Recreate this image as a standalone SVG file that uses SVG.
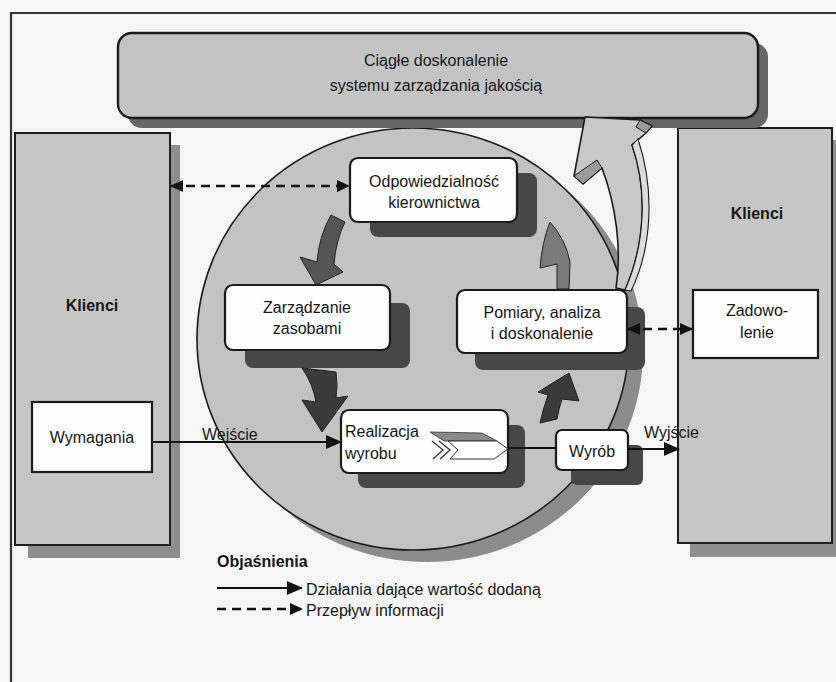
<svg xmlns="http://www.w3.org/2000/svg" width="836" height="682" viewBox="0 0 836 682">
  <defs>
    <style>
      .t { font-family: "Liberation Sans", Arial, sans-serif; font-size: 16px; fill: #161616; text-anchor: middle; }
      .tl { text-anchor: start; }
      .b { font-weight: bold; }
      .panel { fill: #c6c6c6; stroke: #1e1e1e; stroke-width: 2; }
      .pshadow { fill: #8e8e8e; }
      .box { fill: #fdfdfd; stroke: #1a1a1a; stroke-width: 2.2; }
      .bshadow { fill: #474747; }
      .flow { stroke: #111; stroke-width: 1.8; fill: none; }
      .info { stroke: #111; stroke-width: 2.6; fill: none; stroke-dasharray: 9 6; }
      .cyc { stroke: #222; stroke-width: 1; }
    </style>
    <marker id="head" markerWidth="16" markerHeight="16" refX="15" refY="8" orient="auto" markerUnits="userSpaceOnUse">
      <path d="M0,1 L16,8 L0,15 Z" fill="#111"/>
    </marker>
    <marker id="dhead" markerWidth="13" markerHeight="12" refX="12" refY="6" orient="auto-start-reverse" markerUnits="userSpaceOnUse">
      <path d="M0,0 L13,6 L0,12 Z" fill="#111"/>
    </marker>
  </defs>

  <!-- page -->
  <rect x="0" y="0" width="836" height="682" fill="#f6f6f6"/>
  <path d="M11,682 L11,13 L836,13" fill="none" stroke="#333" stroke-width="2.2"/>

  <!-- customers: requirements side -->
  <g id="klienci-wejscie">
    <rect class="pshadow" x="28" y="145" width="152" height="413"/>
    <rect class="panel" x="15" y="133" width="155" height="412"/>
    <text class="t b" x="92" y="311" font-size="18">Klienci</text>
    <rect class="box" x="32" y="402" width="120" height="70" stroke-width="2.4"/>
    <text class="t" x="92" y="443">Wymagania</text>
  </g>

  <!-- customers: satisfaction side -->
  <g id="klienci-wyjscie">
    <rect class="pshadow" x="690" y="140" width="160" height="417"/>
    <rect class="panel" x="678" y="128" width="154" height="415"/>
    <text class="t b" x="757" y="219" font-size="18">Klienci</text>
    <rect class="box" x="693" y="290" width="125" height="68" stroke-width="2.4"/>
    <text class="t" x="757" y="316">Zadowo-</text>
    <text class="t" x="757" y="338">lenie</text>
  </g>

  <!-- quality management process circle -->
  <g id="proces">
    <ellipse cx="427" cy="351" rx="216" ry="211" fill="#8c8c8c"/>
    <ellipse cx="413" cy="339" rx="216" ry="211" fill="#c3c3c3" stroke="#1a1a1a" stroke-width="1.6"/>
  </g>

  <!-- continual improvement banner -->
  <g id="doskonalenie">
    <rect x="128" y="43" width="640" height="85" rx="14" fill="#666"/>
    <rect x="118" y="33" width="640" height="85" rx="14" fill="#c4c4c4" stroke="#1a1a1a" stroke-width="2.4"/>
    <text class="t" x="436" y="66" font-size="19">Ciągłe doskonalenie</text>
    <text class="t" x="436" y="91" font-size="19">systemu zarządzania jakością</text>
  </g>

  <g id="odpowiedzialnosc">
    <rect class="bshadow" x="370" y="173" width="167" height="64" rx="8"/>
    <rect class="box" x="350" y="158" width="167" height="64" rx="8"/>
    <text class="t" x="434" y="187">Odpowiedzialność</text>
    <text class="t" x="434" y="208">kierownictwa</text>
  </g>

  <g id="zasoby">
    <rect class="bshadow" x="245" y="303" width="165" height="65" rx="8"/>
    <rect class="box" x="225" y="285" width="165" height="65" rx="8"/>
    <text class="t" x="307" y="313">Zarządzanie</text>
    <text class="t" x="307" y="334">zasobami</text>
  </g>

  <g id="pomiary">
    <rect class="bshadow" x="475" y="307" width="170" height="63" rx="8"/>
    <rect class="box" x="457" y="290" width="170" height="63" rx="8"/>
    <text class="t" x="542" y="318">Pomiary, analiza</text>
    <text class="t" x="542" y="339">i doskonalenie</text>
  </g>

  <g id="realizacja">
    <rect class="bshadow" x="358" y="425" width="167" height="63" rx="8"/>
    <rect class="box" x="341" y="410" width="167" height="63" rx="8"/>
    <text class="t tl" x="345" y="437">Realizacja</text>
    <text class="t tl" x="345" y="459">wyrobu</text>
    <!-- process chevron symbol -->
    <polygon points="430,432 482,433 497,441 444,441" fill="#8a8a8a" stroke="#333" stroke-width="0.8"/>
    <polygon points="448,441 497,441 508,449 494,459 450,459 458,450" fill="#fff" stroke="#333" stroke-width="1"/>
    <polyline points="432,441 443,450 433,459" fill="none" stroke="#333" stroke-width="1.3"/>
    <polyline points="439,441 450,450 440,459" fill="none" stroke="#333" stroke-width="1.3"/>
  </g>

  <g id="wyrob">
    <rect class="bshadow" x="571" y="445" width="72" height="40" rx="6"/>
    <rect class="box" x="556" y="430" width="72" height="40" rx="6"/>
    <text class="t" x="592" y="457">Wyrób</text>
  </g>

  <!-- connectors -->
  <g id="polaczenia">
    <!-- value-adding flow -->
    <line class="flow" x1="152" y1="442" x2="341" y2="442" marker-end="url(#head)"/>
    <text class="t tl" x="202" y="440">Wejście</text>
    <line class="flow" x1="508" y1="448" x2="556" y2="448"/>
    <line class="flow" x1="628" y1="449" x2="679" y2="449" marker-end="url(#head)"/>
    <text class="t tl" x="644" y="438">Wyjście</text>

    <!-- information flow -->
    <line class="info" x1="171" y1="186" x2="349" y2="186" marker-start="url(#dhead)" marker-end="url(#dhead)"/>
    <line class="info" x1="628" y1="329" x2="692" y2="329" marker-start="url(#dhead)" marker-end="url(#dhead)"/>

    <!-- PDCA cycle arrows -->
    <path class="cyc" fill="#555" d="M331,215 L345,222 Q336,240 334,264 L343,272 L316,285 L300,257 L317,262 Q319,236 331,215 Z"/>
    <path class="cyc" fill="#3a3a3a" d="M302,368 L336,372 Q338,386 336,398 L348,396 L322,432 L302,400 L316,402 Q313,384 302,368 Z"/>
    <path class="cyc" fill="#3a3a3a" d="M540,423 L557,419 Q559,408 562,399 L579,401 L569,373 L538,392 L548,395 Q543,409 540,423 Z"/>
    <path class="cyc" fill="#7a7a7a" d="M550,222 Q566,240 570,262 L569,289 L557,289 L557,264 L540,268 Q542,242 550,222 Z"/>

    <!-- improvement feedback to the banner -->
    <path fill="#c8c8c8" stroke="#1a1a1a" stroke-width="1.6" d="M585,117 L640,120 L652,126 L646,133 L632,145 C648,190 645,245 625,290 L616,288 C622,250 616,205 602,168 L583,184 L574,176 Z"/>
    <path fill="#dcdcdc" stroke="#1a1a1a" stroke-width="1.1" d="M632,145 L638,139 C655,190 652,248 631,291 L625,290 C645,245 648,190 632,145 Z"/>
    <path fill="#9a9a9a" stroke="#1a1a1a" stroke-width="1" d="M574,176 L583,184 L602,168 L597,160 Z"/>
    <path fill="#9a9a9a" stroke="#1a1a1a" stroke-width="1" d="M640,120 L652,126 L646,133 L636,127 Z"/>
  </g>

  <!-- legend -->
  <g id="objasnienia">
    <text class="t tl b" x="217" y="567" font-size="19">Objaśnienia</text>
    <line class="flow" x1="217" y1="588" x2="302" y2="588" stroke-width="2.2" marker-end="url(#head)"/>
    <text class="t tl" x="306" y="595">Działania dające wartość dodaną</text>
    <line class="info" x1="217" y1="609" x2="302" y2="609" marker-end="url(#dhead)"/>
    <text class="t tl" x="306" y="616">Przepływ informacji</text>
  </g>
</svg>
